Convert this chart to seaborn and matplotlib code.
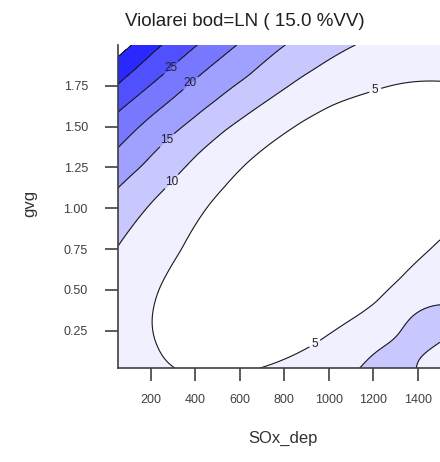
import numpy as np
import matplotlib
matplotlib.use("Agg")
import matplotlib.pyplot as plt
import seaborn as sns

# ---- text / axes ----
title = "Violarei bod=LN ( 15.0 %VV)"
x_label = "SOx_dep"
y_label = "gvg"
x_ticks = [200, 400, 600, 800, 1000, 1200, 1400]
y_ticks = [0.25, 0.50, 0.75, 1.00, 1.25, 1.50, 1.75]
x_range = [50, 1500]
y_range = [0.02, 2.0]

# ---- contour levels and band colours ----
levels = [5, 10, 15, 20, 25, 30, 35]
band_colors = ["#FFFFFF", "#F0F0FF", "#C8C8FF", "#A0A0FF", "#7878FF", "#5050FF", "#2828FF"]

# ---- contour crossing points (SOx_dep, gvg) ----
c35_x = [50, 105]
c35_y = [1.939, 1.995]
c30_x = [50, 128, 240]
c30_y = [1.756, 1.847, 1.995]
c25_x = [50, 188, 293, 405]
c25_y = [1.592, 1.745, 1.858, 1.995]
c20_x = [50, 188, 375, 473, 578]
c20_y = [1.368, 1.551, 1.770, 1.878, 1.995]
c15_x = [50, 158, 271, 383, 488, 638, 795]
c15_y = [1.125, 1.255, 1.418, 1.541, 1.653, 1.806, 1.995]
c10_x = [50, 210, 293, 420, 533, 683, 818, 938, 1110,
         1140, 1320, 1500, 1380, 1440, 1500]
c10_y = [0.765, 1.051, 1.163, 1.347, 1.480, 1.623, 1.745, 1.852, 1.995,
         0.02, 0.234, 0.418, 0.02, 0.111, 0.193]
c5_x = [465, 533, 638, 758, 878, 1013, 1178, 1208, 1328, 1500,
        338, 233, 203, 233, 308, 683, 938, 1140, 1215, 1320, 1455, 1500]
c5_y = [1.031, 1.132, 1.286, 1.418, 1.531, 1.633, 1.705, 1.725, 1.766, 1.776,
        0.744, 0.499, 0.316, 0.152, 0.02, 0.02, 0.168, 0.350, 0.418, 0.561, 0.744, 0.812]
# values read inside bands (SOx_dep, gvg, value)
band_x = [1260, 1420, 1500, 50]
band_y = [0.02, 0.27, 0.02, 2.0]
band_z = [12.0, 12.0, 8.0, 38.0]

# label positions (SOx_dep, gvg)
label_pos = [(293, 1.858), (375, 1.770), (271, 1.418), (293, 1.163),
             (1208, 1.725), (938, 0.168)]

# ---- smooth surface through the read points ----
pts_x, pts_y, pts_z = [], [], []
for lv, xs, ys in [(35, c35_x, c35_y), (30, c30_x, c30_y), (25, c25_x, c25_y),
                   (20, c20_x, c20_y), (15, c15_x, c15_y), (10, c10_x, c10_y),
                   (5, c5_x, c5_y)]:
    pts_x += xs
    pts_y += ys
    pts_z += [lv] * len(xs)
pts_x = np.array(pts_x + band_x, float)
pts_y = np.array(pts_y + band_y, float)
pts_z = np.array(pts_z + band_z, float)


def scale(x, y):
    return (x - 775.0) / 725.0, (y - 1.0)


def poly(x, y):
    u, v = scale(x, y)
    cols = []
    for d in range(4):
        for i in range(d + 1):
            cols.append(u ** (d - i) * v ** i)
    return np.stack(cols, axis=-1)


# base trend: fitted on the main part (without the lower-right ridge)
main = ~((pts_x > 1100) & (pts_y < 0.9))
coef, *_ = np.linalg.lstsq(poly(pts_x[main], pts_y[main]), pts_z[main], rcond=None)
resid = pts_z - poly(pts_x, pts_y) @ coef


def tps_kernel(r):
    with np.errstate(divide="ignore", invalid="ignore"):
        k = r * r * np.log(r)
    return np.where(r > 0, k, 0.0)


pu, pv = scale(pts_x, pts_y)
n = len(pu)
R = np.hypot(pu[:, None] - pu[None, :], pv[:, None] - pv[None, :])
K = tps_kernel(R) + np.eye(n) * 2e-2
P = np.column_stack([np.ones(n), pu, pv])
A = np.zeros((n + 3, n + 3))
A[:n, :n] = K
A[:n, n:] = P
A[n:, :n] = P.T
sol = np.linalg.solve(A, np.concatenate([resid, np.zeros(3)]))
wts, aff = sol[:n], sol[n:]

gx = np.linspace(x_range[0], x_range[1], 260)
gy = np.linspace(y_range[0], y_range[1], 260)
GX, GY = np.meshgrid(gx, gy)
gu, gv = scale(GX, GY)
Rg = np.hypot(gu[..., None] - pu, gv[..., None] - pv)
GZ = (poly(GX, GY) @ coef + tps_kernel(Rg) @ wts
      + aff[0] + aff[1] * gu + aff[2] * gv)

# ---- figure ----
sns.set_style("ticks")
plt.rcParams["font.family"] = ["Liberation Sans", "DejaVu Sans"]

fig = plt.figure(figsize=(4.4, 4.62), dpi=100)
ax = fig.add_axes([117.7 / 440, (462 - 368.3) / 462, 322.3 / 440, 323.3 / 462])

fill_levels = [min(GZ.min(), 0) - 1] + levels
ax.contourf(GX, GY, GZ, levels=fill_levels, colors=band_colors)
cs = ax.contour(GX, GY, GZ, levels=levels, colors="#1a1a1a", linewidths=0.8)
lbls = ax.clabel(cs, levels=[5, 10, 15, 20, 25], manual=label_pos, fmt="%d",
                 fontsize=8.5, inline=True, inline_spacing=3, colors="#222222")
for t in lbls:
    t.set_rotation(0)

ax.set_xlim(x_range)
ax.set_ylim(y_range)
ax.set_xticks(x_ticks)
ax.set_xticklabels([str(t) for t in x_ticks])
ax.set_yticks(y_ticks)
ax.set_yticklabels([f"{t:.2f}" for t in y_ticks])
ax.tick_params(axis="both", direction="out", length=9.5, width=1.2,
               color="#404040", labelsize=9, labelcolor="#404040")
ax.tick_params(axis="x", pad=9)
ax.tick_params(axis="y", pad=12)
for s in ["top", "right"]:
    ax.spines[s].set_visible(False)
for s in ["left", "bottom"]:
    ax.spines[s].set_color("#404040")
    ax.spines[s].set_linewidth(1.2)
ax.set_xlabel("")
ax.set_ylabel("")

fig.text(245 / 440, 1 - 22 / 462, title, ha="center", va="center",
         fontsize=13.5, color="#202020")
fig.text(283 / 440, 1 - 438 / 462, x_label, ha="center", va="center",
         fontsize=12, color="#333333")
fig.text(30 / 440, 1 - 203 / 462, y_label, ha="center", va="center",
         fontsize=12, color="#333333", rotation=90)

fig.savefig("out.png", dpi=100)
